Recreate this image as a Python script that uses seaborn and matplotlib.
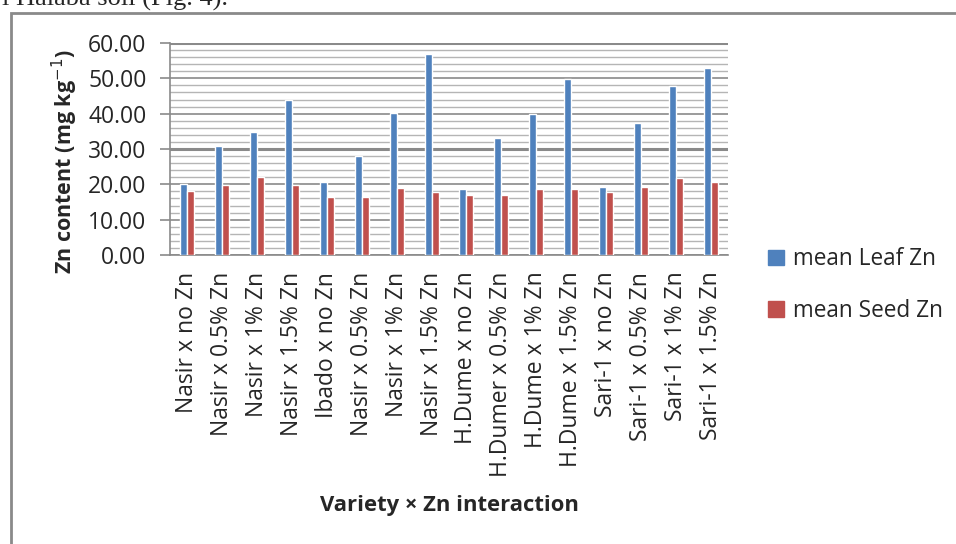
import seaborn as sns
import matplotlib.pyplot as plt
import pandas as pd
from matplotlib.patches import Rectangle, Patch
from matplotlib.ticker import MultipleLocator

# Values
labels = ["Nasir x no Zn", "Nasir x 0.5% Zn", "Nasir x 1% Zn", "Nasir x 1.5% Zn",
          "Ibado x no Zn", "Nasir x 0.5% Zn", "Nasir x 1% Zn", "Nasir x 1.5% Zn",
          "H.Dume x no Zn", "H.Dumer x 0.5% Zn", "H.Dume x 1% Zn", "H.Dume x 1.5% Zn",
          "Sari-1 x no Zn", "Sari-1 x 0.5% Zn", "Sari-1 x 1% Zn", "Sari-1 x 1.5% Zn"]
leaf_zn = [20.2, 30.9, 34.9, 44.0, 20.7, 27.9, 40.1, 57.0,
           18.8, 33.1, 40.0, 49.7, 19.3, 37.3, 47.8, 52.8]
seed_zn = [18.2, 19.7, 22.1, 19.7, 16.5, 16.5, 19.1, 17.7,
           17.1, 17.0, 18.7, 18.7, 17.9, 19.3, 21.8, 20.7]
series_names = ["mean Leaf Zn", "mean Seed Zn"]
colors = ["#4F81BD", "#C0504D"]

df = pd.DataFrame({
    "idx": list(range(len(labels))) * 2,
    "series": [series_names[0]] * len(labels) + [series_names[1]] * len(labels),
    "value": leaf_zn + seed_zn,
})

sns.set_style("white")
plt.rcParams['font.family'] = ['Open Sans', 'DejaVu Sans']

fig = plt.figure(figsize=(9.56, 5.44), dpi=100)
ax = fig.add_axes([170 / 956, 1 - 255 / 544, 558 / 956, 212 / 544])

sns.barplot(data=df, x="idx", y="value", hue="series", palette=colors,
            width=0.4, saturation=1, legend=False, ax=ax, zorder=3)

# gridlines: light minor every 2, darker major every 10
ax.set_ylim(0, 60)
ax.yaxis.set_major_locator(MultipleLocator(10))
ax.yaxis.set_minor_locator(MultipleLocator(2))
ax.grid(which="minor", axis="y", color="#b5b5b5", lw=1.0, zorder=0)
ax.grid(which="major", axis="y", color="#8a8a8a", lw=1.2, zorder=0)
for yv in (30, 60):
    ax.axhline(yv, color="#8a8a8a", lw=2.2, zorder=1)
ax.set_xlim(-0.5, len(labels) - 0.5)

ax.set_yticks(range(0, 61, 10))
ax.set_yticklabels([f"{v:.2f}" for v in range(0, 61, 10)], fontsize=16.5)
ax.tick_params(axis="y", which="major", length=7, width=1.2, color="#8a8a8a",
               left=True, pad=10)
ax.tick_params(axis="y", which="minor", length=0)
ax.set_xticks(range(len(labels)))
ax.set_xticklabels(labels, rotation=90, fontsize=16.5)
ax.tick_params(axis="x", length=0, pad=12)

for s in ("top", "right"):
    ax.spines[s].set_visible(False)
for s in ("left", "bottom"):
    ax.spines[s].set_color("#8a8a8a")
    ax.spines[s].set_linewidth(1.2)

ax.set_xlabel("")
ax.set_ylabel("Zn content (mg kg$^{-1}$)", fontsize=15.5, fontweight="bold")
ax.yaxis.set_label_coords(-0.161, 0.44)
fig.text(449 / 956, 1 - 505 / 544, "Variety × Zn interaction", fontsize=15.8,
         fontweight="bold", ha="center", va="center")

handles = [Patch(color=c, label=n) for c, n in zip(colors, series_names)]
fig.legend(handles=handles, loc="center left", bbox_to_anchor=(748 / 956, 1 - 285 / 544),
           frameon=False, fontsize=16.3, handlelength=0.7, handleheight=0.7,
           handletextpad=0.4, labelspacing=1.2)

# outer chart frame and clipped caption above it
fig.patches.append(Rectangle((11 / 956, -0.1), 1.2, 1 - 13 / 544 + 0.1,
                             transform=fig.transFigure, fill=False,
                             edgecolor="#8a8a8a", lw=2))
fig.text(228 / 956, 1 - 6 / 544, "l Halaba soil (Fig. 4).", fontsize=19,
         family="Liberation Serif", ha="right", va="baseline")

fig.savefig("out.png", dpi=100)
